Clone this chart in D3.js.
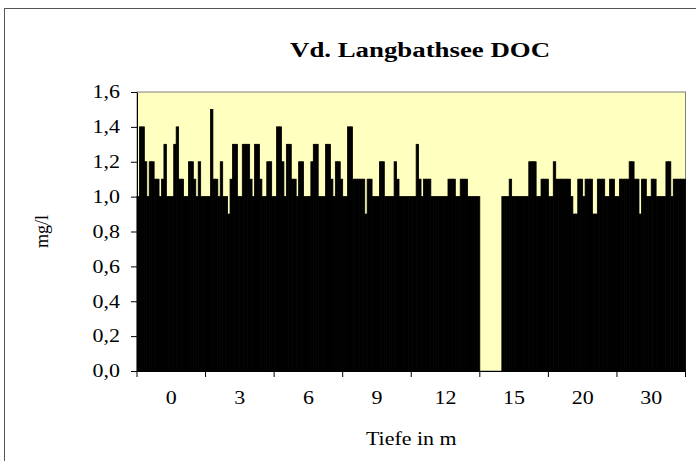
<!DOCTYPE html>
<html>
<head>
<meta charset="utf-8">
<script src="https://cdn.jsdelivr.net/npm/d3@7/dist/d3.min.js"></script>
<style>
  body { margin: 0; background: #fff; }
  text { font-family: "Liberation Serif", "Times New Roman", serif; fill: #000; }
</style>
</head>
<body>
<div id="chart"></div>
<script>
// data below

var depths = ["0", "3", "6", "9", "12", "15", "20", "30"];

var doc0  = [1.0,1.4,1.4,1.2,1.0,1.2,1.2,1.1,1.1,1.0,1.1,1.3,1.0,1.0,1.0,1.3,1.4,1.1,1.1,1.0,1.0,1.2,1.2,1.1,1.0,1.2,1.0,1.0];
var doc3  = [1.0,1.0,1.5,1.1,1.1,1.0,1.2,1.0,1.0,0.9,1.1,1.3,1.3,1.0,1.0,1.3,1.3,1.3,1.1,1.0,1.3,1.3,1.1,1.0,1.0,1.2,1.2,1.0];
var doc6  = [1.0,1.4,1.4,1.2,1.0,1.3,1.3,1.1,1.1,1.0,1.2,1.2,1.0,1.0,1.0,1.2,1.3,1.3,1.0,1.0,1.0,1.3,1.3,1.1,1.0,1.2,1.2,1.1];
var doc9  = [1.0,1.0,1.4,1.4,1.1,1.1,1.1,1.1,1.1,0.9,1.1,1.1,1.0,1.0,1.0,1.2,1.2,1.0,1.0,1.0,1.0,1.2,1.1,1.0,1.0,1.0,1.0,1.0];
var doc12 = [1.0,1.0,1.3,1.1,1.0,1.1,1.1,1.1,1.0,1.0,1.0,1.0,1.0,1.0,1.0,1.1,1.1,1.1,1.0,1.0,1.1,1.1,1.1,1.0,1.0,1.0,1.0,1.0];
var doc15 = [null,null,null,null,null,null,null,null,null,1.0,1.0,1.0,1.1,1.0,1.0,1.0,1.0,1.0,1.0,1.0,1.2,1.2,1.2,1.0,1.0,1.1,1.1,1.1];
var doc20 = [1.0,1.0,1.2,1.1,1.1,1.1,1.1,1.1,1.1,1.0,0.9,0.9,1.1,1.1,1.0,1.1,1.1,1.1,0.9,0.9,1.1,1.1,1.1,1.0,1.0,1.1,1.1,1.0];
var doc30 = [1.0,1.1,1.1,1.1,1.1,1.2,1.2,1.1,1.1,0.9,1.1,1.1,1.0,1.0,1.1,1.1,1.0,1.0,1.0,1.0,1.2,1.2,1.0,1.1,1.1,1.1,1.1,1.1];

var yTicks = [0, 0.2, 0.4, 0.6, 0.8, 1.0, 1.2, 1.4, 1.6];

var title = "Vd. Langbathsee DOC",
    xTitle = "Tiefe in m",
    yTitle = "mg/l";

// rest of logic below

var series = [doc0, doc3, doc6, doc9, doc12, doc15, doc20, doc30];

var outerWidth = 696,
    outerHeight = 461,
    margin = { top: 92, right: 10.5, bottom: 90, left: 137 },
    width = outerWidth - margin.left - margin.right,
    height = outerHeight - margin.top - margin.bottom,
    stretch = 1.22; // text in the picture is a bit wide

var locale = d3.formatLocale({ decimal: ",", thousands: ".", grouping: [3], currency: ["", " €"] });
var fmt = locale.format(".1f");

var x0 = d3.scaleBand().domain(depths).range([0, width]).padding(0);
var x1 = d3.scaleBand().domain(d3.range(doc0.length)).range([0, x0.bandwidth()]).padding(0);
var y = d3.scaleLinear().domain([0, 1.6]).range([height, 0]);

var svg = d3.select("#chart").append("svg")
    .attr("width", outerWidth)
    .attr("height", outerHeight);

// chart frame
svg.append("rect")
    .attr("x", 4.5).attr("y", 8.5)
    .attr("width", 720).attr("height", 470)
    .attr("fill", "#fff")
    .attr("stroke", "#555");

svg.append("text")
    .attr("transform", "translate(420,57) scale(" + stretch + ",1)")
    .attr("text-anchor", "middle")
    .style("font-size", "22px")
    .style("font-weight", "bold")
    .text(title);

var g = svg.append("g")
    .attr("transform", "translate(" + margin.left + "," + margin.top + ")");

// plot area
g.append("rect")
    .attr("width", width)
    .attr("height", height)
    .attr("fill", "#ffffc0")
    .attr("stroke", "#808080");

var groups = g.selectAll(".depth")
    .data(series)
    .enter()
    .append("g")
    .attr("class", "depth")
    .attr("transform", function(d, i) { return "translate(" + x0(depths[i]) + ",0)"; });

groups.selectAll("rect")
    .data(function(d) { return d.map(function(v, i) { return { i: i, v: v }; }).filter(function(e) { return e.v != null; }); })
    .enter()
    .append("rect")
    .attr("x", function(d) { return x1(d.i); })
    .attr("y", function(d) { return y(d.v); })
    .attr("width", x1.bandwidth())
    .attr("height", function(d) { return height - y(d.v); })
    .attr("fill", "#000")
    .attr("stroke", "#000")
    .attr("stroke-width", 0.8);

// y axis
var yAxis = g.append("g")
    .call(d3.axisLeft(y).tickValues(yTicks).tickSizeInner(6).tickSizeOuter(0).tickFormat(fmt));
yAxis.select(".domain").attr("stroke", "#000");
yAxis.selectAll("text")
    .attr("transform", "scale(" + stretch + ",1)")
    .attr("x", -17 / stretch)
    .style("font-size", "18px")
    .style("font-family", "Liberation Serif");

// x axis, labels centred, ticks on category borders
var xAxis = g.append("g")
    .attr("transform", "translate(0," + height + ")")
    .call(d3.axisBottom(x0).tickSize(0));
xAxis.select(".domain").attr("stroke", "#000");
xAxis.selectAll("text")
    .attr("transform", "scale(" + stretch + ",1)")
    .attr("y", 20)
    .attr("dy", "0.71em")
    .style("font-size", "18px")
    .style("font-family", "Liberation Serif");

xAxis.selectAll(".border")
    .data(depths.concat(["end"]))
    .enter()
    .append("line")
    .attr("class", "border")
    .attr("x1", function(d) { return d == "end" ? width : x0(d); })
    .attr("x2", function(d) { return d == "end" ? width : x0(d); })
    .attr("y1", 0)
    .attr("y2", 6)
    .attr("stroke", "#000");

svg.append("text")
    .attr("transform", "translate(" + (margin.left + width / 2) + ",445) scale(" + stretch + ",1)")
    .attr("text-anchor", "middle")
    .style("font-size", "18px")
    .text(xTitle);

svg.append("text")
    .attr("transform", "translate(48," + (margin.top + height / 2) + ") rotate(-90)")
    .attr("text-anchor", "middle")
    .style("font-size", "18px")
    .text(yTitle);
</script>
</body>
</html>
